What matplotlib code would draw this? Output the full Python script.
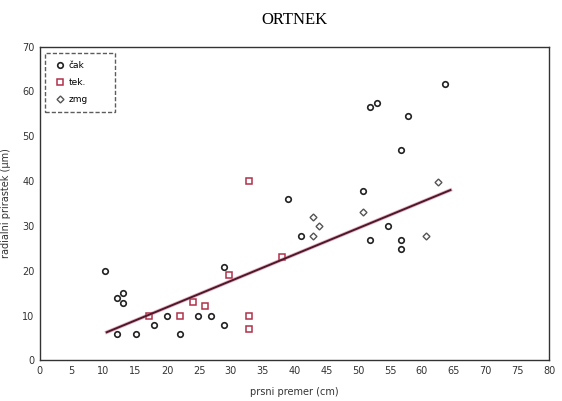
import numpy as np
import matplotlib
matplotlib.use('agg')
import matplotlib.pyplot as plt

# cak (circles)
cak_x = [10.2, 12.1, 13.1, 13.1, 12.1, 15.1, 18.0, 20.0, 22.0, 24.9, 26.9, 28.9, 28.9,
         39.0, 41.1, 51.9, 54.7, 56.7, 56.7, 56.7, 50.8, 51.8, 52.9, 57.8, 63.6]
cak_y = [20.0, 14.0, 15.0, 12.9, 6.0, 6.0, 8.0, 10.0, 6.0, 10.0, 10.0, 20.9, 8.0,
         35.9, 27.8, 26.8, 29.9, 26.8, 24.8, 47.0, 37.8, 56.6, 57.4, 54.6, 61.6]

# tek. (squares)
tek_x = [17.1, 22.0, 24.0, 26.0, 29.7, 32.9, 32.9, 32.9, 38.0]
tek_y = [10.0, 10.0, 13.0, 12.1, 19.1, 40.0, 10.0, 7.0, 23.0]

# zmg (diamonds)
zmg_x = [42.9, 43.9, 42.9, 50.8, 60.7, 62.6]
zmg_y = [31.9, 29.9, 27.8, 33.0, 27.8, 39.9]

# regression line
fit_slope = 0.587
fit_icept = 0.14
fit_range = [10.5, 64.5]

fig = plt.figure(figsize=(5.62, 4.01), dpi=100)
ax = fig.add_axes([0.071, 0.101, 0.906, 0.783])

ax.plot(cak_x, cak_y, 'o', markersize=4, markerfacecolor='none',
        markeredgecolor='#222222', markeredgewidth=1.2, label='čak')
ax.plot(tek_x, tek_y, 's', markersize=4.5, markerfacecolor='none',
        markeredgecolor='#b0304a', markeredgewidth=1.1, label='tek.')
ax.plot(zmg_x, zmg_y, 'D', markersize=3.5, markerfacecolor='none',
        markeredgecolor='#555555', markeredgewidth=1.0, label='zmg')

xf = np.array(fit_range)
ax.plot(xf, fit_slope * xf + fit_icept, color='#d06080', linewidth=2.6, alpha=0.5)
ax.plot(xf, fit_slope * xf + fit_icept, color='#4a1a2a', linewidth=1.4)

ax.set_xlim(0, 80)
ax.set_ylim(0, 70)
ax.set_xticks(np.arange(0, 81, 5))
ax.set_yticks(np.arange(0, 71, 10))
ax.tick_params(length=0, labelsize=7, colors='#333333', pad=4)
for s in ax.spines.values():
    s.set_linewidth(1.0)
    s.set_color('#333333')

ax.set_xlabel('prsni premer (cm)', fontsize=7, color='#333333', labelpad=8)
ax.set_ylabel('radialni prirastek (µm)', fontsize=7, color='#333333', labelpad=8)
ax.set_title('ORTNEK', fontsize=12, family='Liberation Serif', pad=16)

leg = ax.legend(loc='upper left', fontsize=6.5, handlelength=1.6, handletextpad=0.1,
                borderpad=0.9, labelspacing=0.9, fancybox=False, mode='expand',
                bbox_to_anchor=(0.01, 0.98, 0.138, 0), borderaxespad=0.0)
leg.get_frame().set_edgecolor('#333333')
leg.get_frame().set_linestyle((0, (3, 1.5)))
leg.get_frame().set_linewidth(1.0)

plt.savefig('out.png', dpi=100)
